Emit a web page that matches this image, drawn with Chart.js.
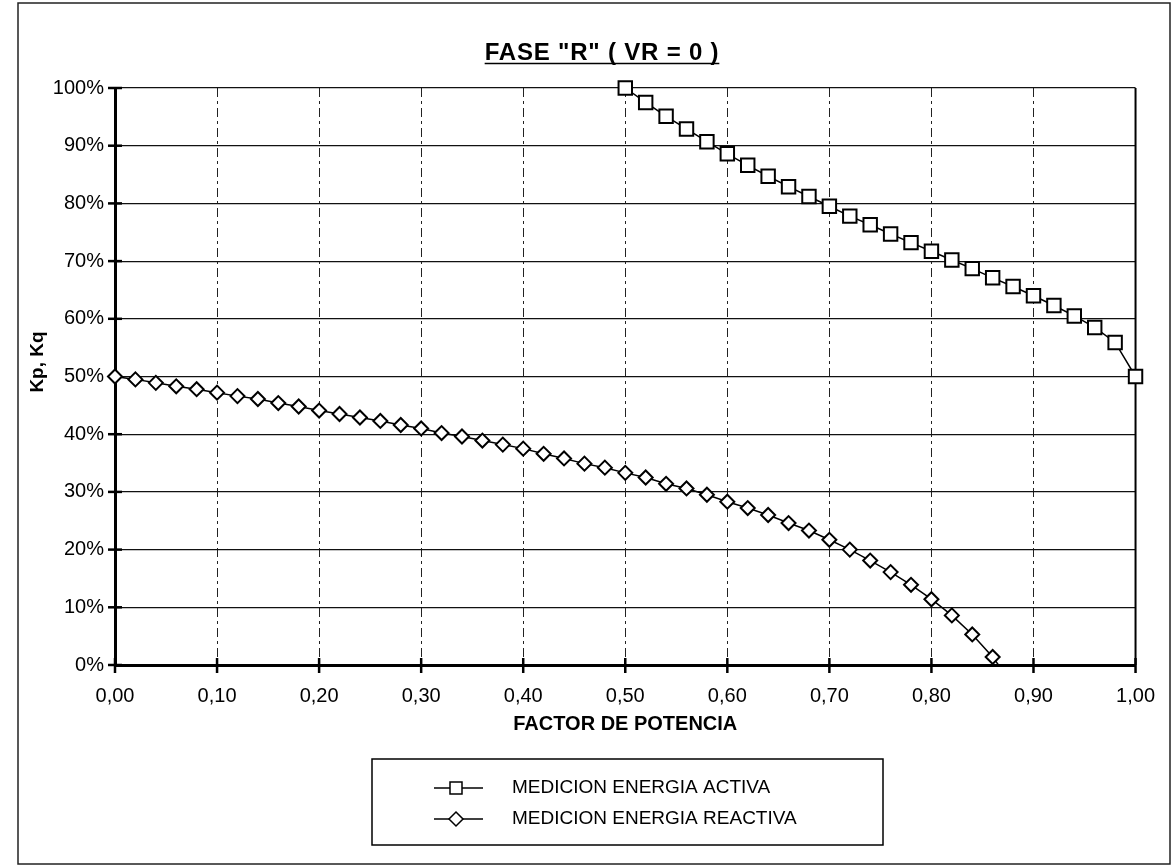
<!DOCTYPE html>
<html lang="es">
<head>
<meta charset="utf-8">
<title>FASE "R" ( VR = 0 )</title>
<script src="https://cdn.jsdelivr.net/npm/chart.js@4.4.1/dist/chart.umd.min.js"></script>
<style>
    html, body { margin: 0; padding: 0; background: #fff; }
    canvas { display: block; }
</style>
</head>
<body>
<canvas id="grafico-fase-r" width="1174" height="868"></canvas>
<script>
// Datos: factor de potencia y coeficientes en %
const factorActiva = [0.50, 0.52, 0.54, 0.56, 0.58, 0.60, 0.62, 0.64, 0.66, 0.68, 0.70, 0.72, 0.74,
    0.76, 0.78, 0.80, 0.82, 0.84, 0.86, 0.88, 0.90, 0.92, 0.94, 0.96, 0.98, 1.00];
const kpActiva = [100.0, 97.5, 95.1, 92.9, 90.7, 88.6, 86.6, 84.7, 82.9, 81.2, 79.5, 77.8, 76.3,
    74.7, 73.2, 71.7, 70.2, 68.7, 67.1, 65.6, 64.0, 62.3, 60.5, 58.5, 55.9, 50.0];

const factorReactiva = [0.00, 0.02, 0.04, 0.06, 0.08, 0.10, 0.12, 0.14, 0.16, 0.18, 0.20, 0.22, 0.24,
    0.26, 0.28, 0.30, 0.32, 0.34, 0.36, 0.38, 0.40, 0.42, 0.44, 0.46, 0.48, 0.50, 0.52, 0.54, 0.56,
    0.58, 0.60, 0.62, 0.64, 0.66, 0.68, 0.70, 0.72, 0.74, 0.76, 0.78, 0.80, 0.82, 0.84, 0.86, 0.88];
const kqReactiva = [50.0, 49.5, 48.9, 48.3, 47.8, 47.2, 46.6, 46.1, 45.4, 44.8, 44.1, 43.5, 42.9,
    42.3, 41.6, 41.0, 40.2, 39.6, 38.9, 38.2, 37.5, 36.6, 35.8, 34.9, 34.2, 33.3, 32.5, 31.4, 30.6,
    29.5, 28.3, 27.2, 26.0, 24.6, 23.3, 21.7, 20.0, 18.1, 16.1, 13.9, 11.4, 8.6, 5.3, 1.4, -3.5];

const titulo = 'FASE "R" ( VR = 0 )';
const tituloEjeX = 'FACTOR DE POTENCIA';
const tituloEjeY = 'Kp, Kq';
const nombresSeries = ['MEDICION ENERGIA ACTIVA', 'MEDICION ENERGIA REACTIVA'];

const FUENTE = "'Liberation Sans', Arial, sans-serif";

// Decoracion: fondo, marco, marcas de eje cruzadas, titulos y leyenda
const decoracion = {
    id: 'decoracion',
    beforeDraw(chart) {
        const ctx = chart.ctx;
        ctx.save();
        ctx.fillStyle = '#fff';
        ctx.fillRect(0, 0, chart.width, chart.height);
        ctx.strokeStyle = '#222';
        ctx.lineWidth = 1.5;
        ctx.strokeRect(18, 3, 1152, 861);
        ctx.restore();
    },
    beforeDatasetsDraw(chart) {
        const ctx = chart.ctx;
        const area = chart.chartArea;
        const sx = chart.scales.x;
        const sy = chart.scales.y;
        ctx.save();
        ctx.strokeStyle = '#000';
        // borde derecho del area de trazado
        ctx.lineWidth = 2;
        ctx.beginPath();
        ctx.moveTo(area.right, area.top);
        ctx.lineTo(area.right, area.bottom);
        ctx.stroke();
        // marcas que cruzan los ejes
        ctx.lineWidth = 2.5;
        sy.ticks.forEach(t => {
            const y = sy.getPixelForValue(t.value);
            ctx.beginPath();
            ctx.moveTo(area.left - 7, y);
            ctx.lineTo(area.left + 7, y);
            ctx.stroke();
        });
        sx.ticks.forEach(t => {
            const x = sx.getPixelForValue(t.value);
            ctx.beginPath();
            ctx.moveTo(x, area.bottom - 7);
            ctx.lineTo(x, area.bottom + 8);
            ctx.stroke();
        });
        ctx.restore();
    },
    afterDraw(chart) {
        const ctx = chart.ctx;
        ctx.save();
        ctx.fillStyle = '#000';
        ctx.strokeStyle = '#000';

        // titulo subrayado
        ctx.font = 'bold 24px ' + FUENTE;
        ctx.letterSpacing = '0.8px';
        ctx.textAlign = 'center';
        ctx.textBaseline = 'alphabetic';
        ctx.fillText(titulo, 602, 60);
        const w = ctx.measureText(titulo).width;
        ctx.letterSpacing = '0px';
        ctx.lineWidth = 1.6;
        ctx.beginPath();
        ctx.moveTo(602 - w / 2, 63.5);
        ctx.lineTo(602 + w / 2, 63.5);
        ctx.stroke();

        // titulo del eje Y, girado
        ctx.save();
        ctx.translate(38, 362);
        ctx.rotate(-Math.PI / 2);
        ctx.font = 'bold 19px ' + FUENTE;
        ctx.textBaseline = 'middle';
        ctx.fillText(tituloEjeY, 0, 0);
        ctx.restore();

        // leyenda
        ctx.lineWidth = 1.5;
        ctx.strokeRect(372, 759, 511, 86);
        const filas = [788, 819];
        ctx.font = '19px ' + FUENTE;
        ctx.textAlign = 'left';
        ctx.textBaseline = 'middle';
        filas.forEach((y, i) => {
            ctx.lineWidth = 1.5;
            ctx.beginPath();
            ctx.moveTo(434, y);
            ctx.lineTo(483, y);
            ctx.stroke();
            ctx.fillStyle = '#fff';
            ctx.beginPath();
            if (i === 0) {
                ctx.rect(450, y - 6, 12, 12);
            } else {
                ctx.moveTo(456, y - 7);
                ctx.lineTo(463, y);
                ctx.lineTo(456, y + 7);
                ctx.lineTo(449, y);
                ctx.closePath();
            }
            ctx.fill();
            ctx.stroke();
            ctx.fillStyle = '#000';
            ctx.fillText(nombresSeries[i], 512, y);
        });
        ctx.restore();
    }
};

function aPuntos(xs, ys) {
    return xs.map((x, i) => ({ x: x, y: ys[i] }));
}

new Chart(document.getElementById('grafico-fase-r').getContext('2d'), {
    type: 'line',
    data: {
        datasets: [{
            label: nombresSeries[0],
            data: aPuntos(factorActiva, kpActiva),
            borderColor: '#000',
            borderWidth: 1.5,
            pointStyle: 'rect',
            pointRadius: 9.5,
            pointBorderWidth: 2,
            pointBackgroundColor: '#fff',
            pointBorderColor: '#000',
            tension: 0,
            clip: { left: 14, top: 14, right: 14, bottom: 0 }
        }, {
            label: nombresSeries[1],
            data: aPuntos(factorReactiva, kqReactiva),
            borderColor: '#000',
            borderWidth: 1.5,
            pointStyle: 'rectRot',
            pointRadius: 7,
            pointBorderWidth: 2,
            pointBackgroundColor: '#fff',
            pointBorderColor: '#000',
            tension: 0,
            clip: { left: 14, top: 14, right: 14, bottom: 0 }
        }]
    },
    options: {
        responsive: false,
        animation: false,
        devicePixelRatio: 1,
        layout: { padding: { top: 88, right: 37, bottom: 123, left: 0 } },
        plugins: {
            legend: { display: false },
            tooltip: { enabled: false }
        },
        scales: {
            x: {
                type: 'linear',
                min: 0,
                max: 1,
                ticks: {
                    stepSize: 0.1,
                    padding: 19,
                    color: '#000',
                    font: { family: FUENTE, size: 20 },
                    callback: v => Number(v).toFixed(2).replace('.', ',')
                },
                grid: {
                    drawTicks: false,
                    lineWidth: 1,
                    color: ctx => (ctx.tick && (ctx.tick.value === 0 || ctx.tick.value >= 1)) ? 'rgba(0,0,0,0)' : '#222'
                },
                border: { color: '#000', width: 3, dash: [9, 4, 3, 4] },
                title: {
                    display: true,
                    text: tituloEjeX,
                    color: '#000',
                    font: { family: FUENTE, size: 20, weight: 'bold' },
                    padding: { top: 0, bottom: 9 }
                },
                afterFit: s => { s.height = 80; }
            },
            y: {
                min: 0,
                max: 100,
                ticks: {
                    stepSize: 10,
                    padding: 11,
                    color: '#000',
                    font: { family: FUENTE, size: 20 },
                    callback: v => v + '%'
                },
                grid: {
                    drawTicks: false,
                    lineWidth: 1.2,
                    color: '#111'
                },
                border: { color: '#000', width: 3 },
                afterFit: s => { s.width = 115; }
            }
        }
    },
    plugins: [decoracion]
});
</script>
</body>
</html>
